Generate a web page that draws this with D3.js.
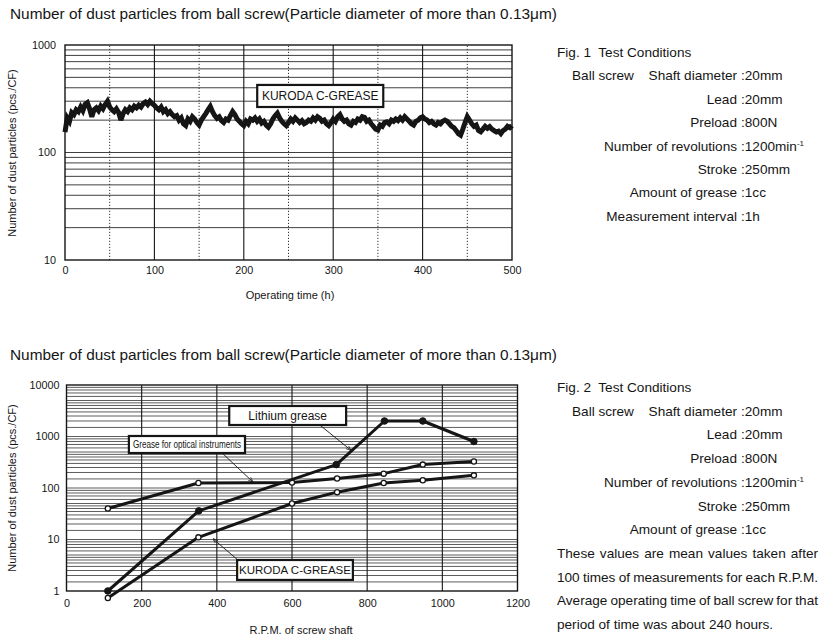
<!DOCTYPE html>
<html><head><meta charset="utf-8">
<script src="https://cdn.jsdelivr.net/npm/d3@7"></script>
<style>
body{margin:0;background:#fff;}
svg text{font-family:"Liberation Sans",Arial,Helvetica,sans-serif;fill:#151515;}
</style></head><body>
<svg id="c" width="836" height="644"></svg>
<script>
// ---------- data ----------
const chartTitle = "Number of dust particles from ball screw(Particle diameter of more than 0.13\u03bcm)";

const fig1StepHours = 2.5;
const fig1Values = [
155,210,195,235,225,250,240,265,245,280,290,255,215,250,260,245,270,255,280,300,
265,250,240,255,235,200,230,250,240,260,250,270,260,275,265,285,295,280,300,285,
275,260,250,265,240,250,230,240,225,215,220,200,210,185,178,205,195,215,205,190,
180,200,215,230,250,268,240,220,208,215,198,190,205,200,220,240,225,205,195,185,
178,195,185,205,200,210,195,205,188,195,180,172,185,205,220,232,210,195,185,178,
190,205,195,210,200,190,198,185,190,200,195,210,200,215,208,195,200,185,178,190,
205,195,215,225,205,195,200,185,180,195,190,205,200,215,212,195,200,185,175,165,
162,180,175,190,193,185,200,195,205,198,210,200,215,205,195,185,180,195,200,210,
215,205,200,190,195,185,180,190,185,195,200,195,185,175,170,160,150,145,165,190,
215,200,185,175,180,160,156,165,175,168,174,165,160,155,158,150,160,165,175,170,178
];
const fig1XTicks = [0,100,200,300,400,500];
const fig1YTicks = [10,100,1000];
const fig1SolidV = [100,200,300,400];
const fig1DottedV = [50,150,250,350,450];
const fig1Label = "KURODA C-GREASE";

// Fig.2 : dust count vs R.P.M.
const fig2XTicks = [0,200,400,600,800,1000,1200];
const fig2YTicks = [1,10,100,1000,10000];
const fig2SolidV = [200,400,600,800,1000];
const lithiumRpm = [110,352,718,846,948,1084];
const lithiumVal = [1,36,285,2000,2000,800];
const opticalRpm = [110,351,600,720,844,948,1084];
const opticalVal = [40,125,128,153,190,285,328];
const kurodaRpm  = [110,351,600,720,844,948,1084];
const kurodaVal  = [0.73,11,50,83,125,141,176];

const fig1Conditions = [
  ["Ball screw","Shaft diameter",":20mm"],
  ["","Lead",":20mm"],
  ["","Preload",":800N"],
  ["","Number of revolutions",":1200min","-1"],
  ["","Stroke",":250mm"],
  ["","Amount of grease",":1cc"],
  ["","Measurement interval",":1h"]
];
const fig2Conditions = fig1Conditions.slice(0,6);
const fig2Notes = [
  "These values are mean values taken after",
  "100 times of measurements for each R.P.M.",
  "Average operating time of ball screw for that",
  "period of time was about 240 hours."
];

// ---------- drawing ----------
const svg = d3.select("#c");
const ink = "#151515";
const sideFont = 13.6;

svg.append("defs").append("marker")
  .attr("id","arr").attr("viewBox","0 0 10 10").attr("refX",9).attr("refY",5)
  .attr("markerWidth",6).attr("markerHeight",6).attr("orient","auto")
  .append("path").attr("d","M0,1.5L10,5L0,8.5").attr("fill","none").attr("stroke",ink).attr("stroke-width",1.3);

function titleAt(y){
  svg.append("text").attr("x",10).attr("y",y).attr("font-size",15.4).text(chartTitle);
}

// ===== Figure 1 =====
titleAt(19);
const x1 = d3.scaleLinear().domain([0,500]).range([65,512]);
const y1 = d3.scaleLog().domain([10,1000]).range([260,45]);
const g1 = svg.append("g");

const grid1 = [];
[10,100].forEach(d=>{ for(let m=2;m<=9;m++) grid1.push(d*m); });
grid1.push(100);
g1.selectAll(".hg").data(grid1).join("line")
  .attr("x1",x1(0)).attr("x2",x1(500)).attr("y1",d=>y1(d)).attr("y2",d=>y1(d))
  .attr("stroke","#2a2a2a").attr("stroke-width",0.9);
g1.selectAll(".vs").data(fig1SolidV).join("line")
  .attr("x1",d=>x1(d)).attr("x2",d=>x1(d)).attr("y1",y1(10)).attr("y2",y1(1000))
  .attr("stroke",ink).attr("stroke-width",1.1);
g1.selectAll(".vd").data(fig1DottedV).join("line")
  .attr("x1",d=>x1(d)).attr("x2",d=>x1(d)).attr("y1",y1(10)).attr("y2",y1(1000))
  .attr("stroke","#333").attr("stroke-width",1).attr("stroke-dasharray","1.2,1.8");

g1.append("path").datum(fig1Values)
  .attr("d", d3.line().x((d,i)=>x1(i*fig1StepHours)).y(d=>y1(d)))
  .attr("fill","none").attr("stroke",ink).attr("stroke-width",5).attr("stroke-linejoin","miter").attr("stroke-miterlimit",3);

g1.append("rect").attr("x",x1(0)).attr("y",y1(1000)).attr("width",x1(500)-x1(0)).attr("height",y1(10)-y1(1000))
  .attr("fill","none").attr("stroke",ink).attr("stroke-width",1.4);

// label box (data coords)
{
  const bx0=x1(215), bx1=x1(356), by0=y1(425), by1=y1(265);
  g1.append("rect").attr("x",bx0).attr("y",by0).attr("width",bx1-bx0).attr("height",by1-by0)
    .attr("fill","#fff").attr("stroke",ink).attr("stroke-width",2.2);
  g1.append("text").attr("x",(bx0+bx1)/2).attr("y",(by0+by1)/2).attr("dy","0.36em")
    .attr("text-anchor","middle").attr("font-size",12).text(fig1Label);
}

const ax1x = svg.append("g").attr("transform",`translate(0,${y1(10)})`)
  .call(d3.axisBottom(x1).tickValues(fig1XTicks).tickSize(0).tickPadding(6).tickFormat(d3.format("d")));
const ax1y = svg.append("g").attr("transform",`translate(${x1(0)},0)`)
  .call(d3.axisLeft(y1).tickValues(fig1YTicks).tickSize(0).tickPadding(9).tickFormat(d3.format("d")));
[ax1x,ax1y].forEach(a=>{a.select(".domain").remove(); a.selectAll("text").attr("font-size",10.8).attr("fill",ink).style("font-family",'"Liberation Sans",Arial,sans-serif');});

svg.append("text").attr("x",290).attr("y",299).attr("text-anchor","middle").attr("font-size",11).text("Operating time (h)");
svg.append("text").attr("transform","translate(16,153) rotate(-90)").attr("text-anchor","middle").attr("font-size",11).text("Number of dust particles (pcs./CF)");

// ===== Figure 2 =====
titleAt(360);
const x2 = d3.scaleLinear().domain([0,1200]).range([66.5,517.5]);
const y2 = d3.scaleLog().domain([1,10000]).range([591,385]);
const g2 = svg.append("g");

const grid2Mult = [1.5,2,2.5,3,3.5,4,4.5,5,6,7,8,9];
const grid2 = [];
[1,10,100,1000].forEach(d=>{ grid2Mult.forEach(m=>grid2.push(d*m)); });
grid2.push(10,100,1000);
g2.selectAll(".hg").data(grid2).join("line")
  .attr("x1",x2(0)).attr("x2",x2(1200)).attr("y1",d=>y2(d)).attr("y2",d=>y2(d))
  .attr("stroke","#333").attr("stroke-width",0.8);
g2.selectAll(".vs").data(fig2SolidV).join("line")
  .attr("x1",d=>x2(d)).attr("x2",d=>x2(d)).attr("y1",y2(1)).attr("y2",y2(10000))
  .attr("stroke",ink).attr("stroke-width",1.1);

g2.append("rect").attr("x",x2(0)).attr("y",y2(10000)).attr("width",x2(1200)-x2(0)).attr("height",y2(1)-y2(10000))
  .attr("fill","none").attr("stroke",ink).attr("stroke-width",1.4);

function series(rpm, vals, filled){
  const pts = rpm.map((r,i)=>({r, v:vals[i]}));
  g2.append("path").datum(pts)
    .attr("d", d3.line().x(d=>x2(d.r)).y(d=>y2(d.v)))
    .attr("fill","none").attr("stroke",ink).attr("stroke-width",3).attr("stroke-linejoin","round");
  g2.selectAll(null).data(pts).join("circle")
    .attr("cx",d=>x2(d.r)).attr("cy",d=>y2(d.v))
    .attr("r",filled?3.3:2.6)
    .attr("fill",filled?ink:"#fff").attr("stroke",ink).attr("stroke-width",filled?1:1.3);
}
series(opticalRpm, opticalVal, false);
series(kurodaRpm, kurodaVal, false);
series(lithiumRpm, lithiumVal, true);

function box(r0,r1,vTop,vBot,label,fs,fit){
  const bx0=x2(r0), bx1=x2(r1), by0=y2(vTop), by1=y2(vBot);
  g2.append("rect").attr("x",bx0).attr("y",by0).attr("width",bx1-bx0).attr("height",by1-by0)
    .attr("fill","#fff").attr("stroke",ink).attr("stroke-width",2.2);
  const t = g2.append("text").attr("x",(bx0+bx1)/2).attr("y",(by0+by1)/2).attr("dy","0.36em")
    .attr("text-anchor","middle").attr("font-size",fs).text(label);
  if(fit){ t.attr("textLength",bx1-bx0-8).attr("lengthAdjust","spacingAndGlyphs"); }
}
function leader(r0,v0,r1,v1){
  g2.append("line").attr("x1",x2(r0)).attr("y1",y2(v0)).attr("x2",x2(r1)).attr("y2",y2(v1))
    .attr("stroke",ink).attr("stroke-width",0.9).attr("marker-end","url(#arr)");
}
leader(674,1672,757,540);
leader(414,478,496,131);
leader(456,4.0,390,10.3);
box(433,744,3911,1672,"Lithium grease",12,false);
box(166,475,1023,478,"Grease for optical instruments",10.5,true);
box(454,762,4.0,1.64,"KURODA C-GREASE",11.5,false);

const ax2x = svg.append("g").attr("transform",`translate(0,${y2(1)})`)
  .call(d3.axisBottom(x2).tickValues(fig2XTicks).tickSize(0).tickPadding(8).tickFormat(d3.format("d")));
const ax2y = svg.append("g").attr("transform",`translate(${x2(0)},0)`)
  .call(d3.axisLeft(y2).tickValues(fig2YTicks).tickSize(0).tickPadding(7).tickFormat(d3.format("d")));
[ax2x,ax2y].forEach(a=>{a.select(".domain").remove(); a.selectAll("text").attr("font-size",10.8).attr("fill",ink).style("font-family",'"Liberation Sans",Arial,sans-serif');});

svg.append("text").attr("x",301).attr("y",634).attr("text-anchor","middle").attr("font-size",11).text("R.P.M. of screw shaft");
svg.append("text").attr("transform","translate(16,488) rotate(-90)").attr("text-anchor","middle").attr("font-size",11).text("Number of dust particles (pcs./CF)");

// ===== Test conditions =====
function conditions(figName, y0, rows, step){
  svg.append("text").attr("x",557).attr("y",y0).attr("font-size",sideFont).attr("xml:space","preserve").text(figName);
  rows.forEach((r,i)=>{
    const y = y0 + step*(i+1);
    if(r[0]) svg.append("text").attr("x",572).attr("y",y).attr("font-size",sideFont).text(r[0]);
    svg.append("text").attr("x",737).attr("y",y).attr("text-anchor","end").attr("font-size",sideFont).text(r[1]);
    const t = svg.append("text").attr("x",741).attr("y",y).attr("font-size",sideFont).text(r[2]);
    if(r[3]) t.append("tspan").attr("font-size",8).attr("dy",-5).text(r[3]);
  });
}
conditions("Fig. 1  Test Conditions", 57, fig1Conditions, 23.4);
conditions("Fig. 2  Test Conditions", 392, fig2Conditions, 23.7);

fig2Notes.forEach((line,i)=>{
  const y = 392 + 23.7*(7+i);
  const justify = i < 3;
  const words = line.split(" ");
  if(!justify){
    svg.append("text").attr("x",557).attr("y",y).attr("font-size",sideFont).text(line);
    return;
  }
  const target = 261;
  const ws = words.map(w=>{
    const t = svg.append("text").attr("x",0).attr("y",y).attr("font-size",sideFont).text(w);
    return {t, w:t.node().getComputedTextLength()};
  });
  const total = d3.sum(ws,d=>d.w);
  const gap = (target-total)/(words.length-1);
  let x = 557;
  ws.forEach(d=>{ d.t.attr("x",x); x += d.w + gap; });
});
</script></body></html>
